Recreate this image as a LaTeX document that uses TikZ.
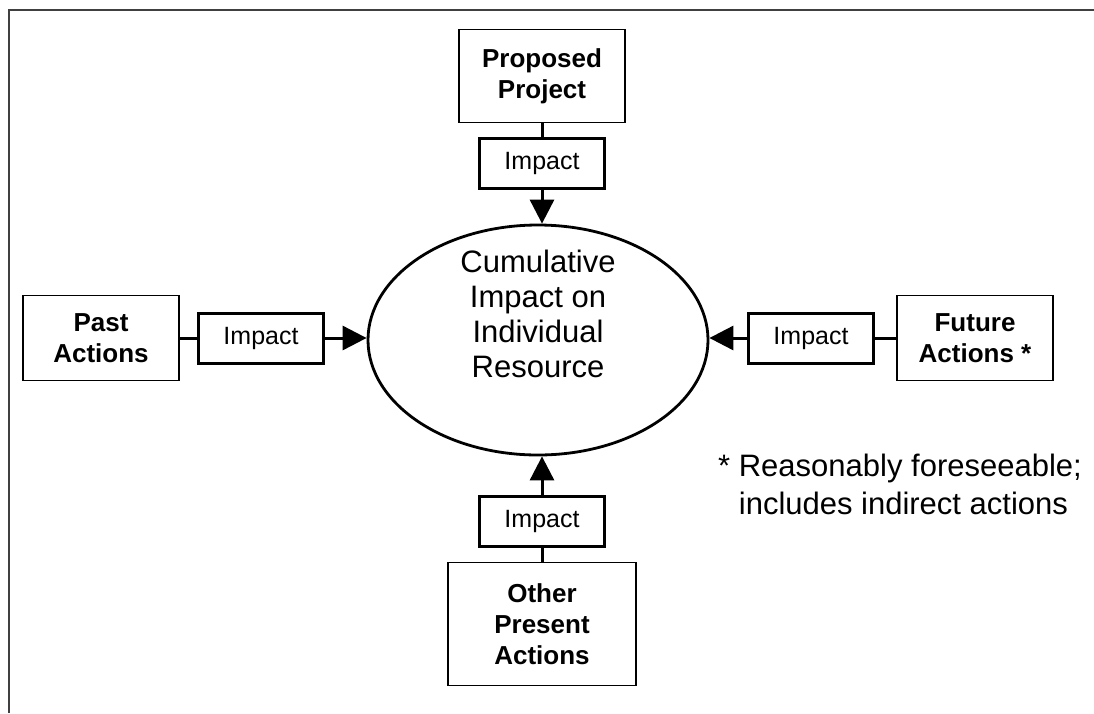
\documentclass[tikz,border=0pt]{standalone}
\usepackage{fontspec}
\setmainfont{Liberation Sans}
\usetikzlibrary{shapes.geometric,arrows.meta}
\tikzset{
  actionbox/.style={
    draw,
    line width=1.6pt,
    inner sep=0pt,
    align=center,
    font=\fontsize{26pt}{31pt}\selectfont\bfseries
  },
  impactbox/.style={
    draw,
    line width=3pt,
    minimum width=125pt,
    minimum height=50pt,
    inner sep=0pt,
    font=\fontsize{25pt}{29pt}\selectfont
  },
  link/.style={line width=3pt},
  feed/.style={line width=3pt, -{Triangle[length=24pt,width=24pt]}},
}

\begin{document}
\begin{tikzpicture}[x=1pt,y=-1pt]
\useasboundingbox (0,0) rectangle (1094,713);
% frame
\draw[line width=2pt,black!75] (1094,10) -- (9,10) -- (9,713);
% centre
\node[ellipse,draw,line width=2.8pt,minimum width=340pt,minimum height=230pt] (cumul) at (538,340) {};
\node[align=center,font=\fontsize{31pt}{35pt}\selectfont] (cumultext) at (538,314) {Cumulative\\Impact on\\Individual\\Resource};
% actions
\node[actionbox,minimum width=166pt,minimum height=93pt] (proposed) at (542,76) {Proposed\\Project};
\node[actionbox,minimum width=156pt,minimum height=85pt] (past) at (101,338) {Past\\Actions};
\node[actionbox,minimum width=156pt,minimum height=85pt] (future) at (975,338) {Future\\Actions *};
\node[actionbox,minimum width=188pt,minimum height=123pt] (other) at (542,624) {Other\\Present\\Actions};
% impacts
\node[impactbox] (impN) at (542,163) {Impact};
\node[impactbox] (impW) at (261,338) {Impact};
\node[impactbox] (impE) at (811,338) {Impact};
\node[impactbox] (impS) at (542,521) {Impact};
\foreach \src/\dst in {proposed/impN,past/impW,future/impE,other/impS}
  \draw[link] (\src) -- (\dst);
\draw[feed] (impN) -- (impN |- cumul.north);
\draw[feed] (impS) -- (impS |- cumul.south);
\draw[feed] (impW) -- (impW -| cumul.west);
\draw[feed] (impE) -- (impE -| cumul.east);
% footnote
\node[anchor=north west,inner sep=0pt,align=left,font=\fontsize{31pt}{38pt}\selectfont] (note) at (718,454) {* Reasonably foreseeable;\\\hphantom{* }includes indirect actions};
\end{tikzpicture}
\end{document}
